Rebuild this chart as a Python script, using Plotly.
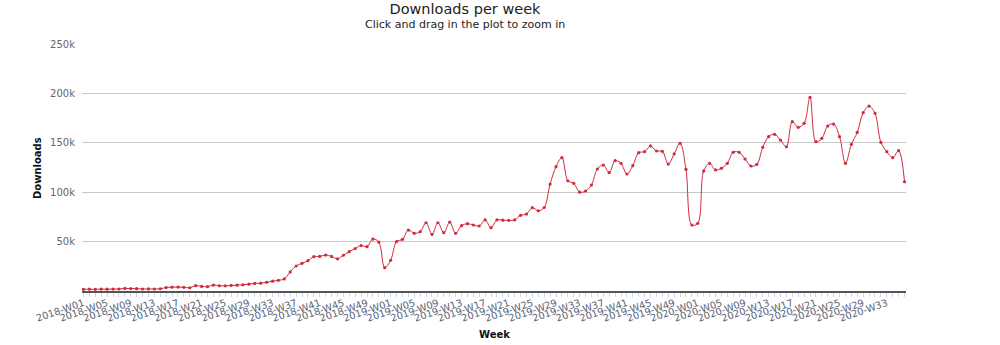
import plotly.graph_objects as go

# ISO weeks covered: all of 2018 and 2019 (52 weeks each), 2020 up to week 36
years = [2018, 2019, 2020]
weeks_in_year = [52, 52, 36]
weeks = [f"{y}-W{w:02d}" for y, n in zip(years, weeks_in_year) for w in range(1, n + 1)]

# Weekly download counts, in thousands
downloads_k = [
    1.7, 1.8, 1.7, 1.9, 1.8, 1.9, 2.0, 2.6, 2.5, 2.4, 2.0, 2.1, 2.0,
    2.3, 3.5, 3.9, 4.0, 3.7, 3.3, 5.4, 4.6, 4.4, 6.0, 5.3, 5.2, 5.6,
    5.9, 6.3, 6.9, 7.7, 7.9, 8.8, 9.9, 10.8, 12.2, 19.3, 25.3, 28.0, 30.7,
    34.7, 35.0, 36.4, 35.0, 32.6, 36.2, 39.8, 43.0, 46.0, 44.9, 52.6, 49.5, 23.6,
    31.0, 50.0, 52.3, 61.7, 58.4, 60.0, 69.1, 57.4, 69.1, 59.0, 69.8, 58.4, 66.1,
    68.1, 66.8, 65.8, 71.9, 64.1, 71.9, 71.7, 71.5, 71.9, 76.6, 77.9, 84.3, 81.2,
    84.5, 108.2, 125.8, 134.9, 111.6, 109.0, 100.0, 101.2, 107.3, 123.5, 127.5, 119.8, 131.9,
    129.2, 118.4, 126.8, 140.0, 141.0, 146.8, 141.7, 141.4, 128.5, 138.7, 149.5, 123.2, 66.8,
    68.5, 121.5, 129.2, 122.5, 124.2, 129.2, 140.4, 140.4, 133.6, 126.5, 128.2, 145.4, 156.2,
    158.6, 152.8, 146.0, 171.4, 165.7, 169.7, 196.0, 151.1, 154.5, 167.0, 169.0, 156.2, 129.2,
    148.5, 160.6, 180.5, 187.2, 179.9, 150.5, 141.0, 134.9, 142.0, 110.6,
]
downloads = [v * 1000 for v in downloads_k]

# Every fourth week gets a label; all weeks get a tick mark
week_labels = [w if i % 4 == 0 else "" for i, w in enumerate(weeks)]

y_ticks = [50000, 100000, 150000, 200000, 250000]
y_tick_text = ["50k", "100k", "150k", "200k", "250k"]

LINE_RED = "#d22a3c"
FONT = "DejaVu Sans"

fig = go.Figure()
fig.add_trace(go.Scatter(
    x=weeks,
    y=downloads,
    mode="lines+markers",
    line=dict(color=LINE_RED, width=1, shape="spline", smoothing=1.0),
    marker=dict(color=LINE_RED, size=3.2),
    name="Downloads",
    hovertemplate="%{x}: %{y:,}<extra></extra>",
))

fig.update_layout(
    width=1000,
    height=345,
    margin=dict(l=82, r=94, t=44, b=54),
    paper_bgcolor="white",
    plot_bgcolor="white",
    showlegend=False,
    font=dict(family=FONT, color="#666666"),
    title=dict(
        text="Downloads per week",
        x=465 / 1000, xanchor="center", xref="container",
        y=1 - 9 / 345, yanchor="middle", yref="container",
        font=dict(family=FONT, size=14.5, color="#222222"),
    ),
    dragmode="zoom",
)

fig.update_xaxes(
    type="category",
    range=[-0.25, len(weeks) - 0.75],
    tickmode="array",
    tickvals=weeks,
    ticktext=week_labels,
    tickangle=-19,
    tickfont=dict(family=FONT, size=9.8, color="#5a6478"),
    ticks="outside",
    ticklen=4,
    tickcolor="#ccd6eb",
    ticklabelstandoff=-3,
    showgrid=False,
    showline=True,
    linecolor="#555555",
    linewidth=2,
    zeroline=False,
)

fig.update_yaxes(
    range=[0, 250000],
    tickmode="array",
    tickvals=y_ticks,
    ticktext=y_tick_text,
    tickfont=dict(family=FONT, size=10, color="#666666"),
    ticklabelstandoff=6,
    showgrid=True,
    gridcolor="#c8c8c8",
    gridwidth=1,
    zeroline=False,
    showline=False,
    ticks="",
)

fig.add_annotation(
    text="Click and drag in the plot to zoom in",
    xref="paper", yref="paper",
    x=(465 - 82) / 824, y=(291 - 24.5) / 247,
    xanchor="center", yanchor="middle",
    showarrow=False,
    font=dict(family=FONT, size=11, color="#222222"),
)
fig.add_annotation(
    text="<b>Downloads</b>",
    xref="paper", yref="paper",
    x=(37 - 82) / 824, y=(291 - 168) / 247,
    xanchor="center", yanchor="middle",
    textangle=-90,
    showarrow=False,
    font=dict(family=FONT, size=10, color="#111111"),
)
fig.add_annotation(
    text="<b>Week</b>",
    xref="paper", yref="paper",
    x=(494 - 82) / 824, y=(291 - 334) / 247,
    xanchor="center", yanchor="middle",
    showarrow=False,
    font=dict(family=FONT, size=10, color="#111111"),
)

fig.write_html("out.html")
